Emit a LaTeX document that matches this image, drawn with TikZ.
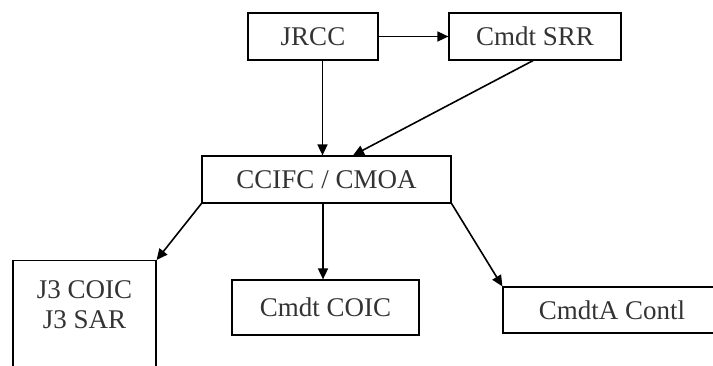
\documentclass[tikz,border=0pt]{standalone}
\usepackage{fontspec}
\setmainfont{Liberation Serif}
\usepackage{tikz}
\usetikzlibrary{arrows.meta}

\begin{document}
\begin{tikzpicture}[x=1pt,y=1pt,
    box/.style={draw,line width=1.2pt,inner sep=0pt,
      font=\fontsize{27}{30}\selectfont,text=black!80},
    >={Triangle[length=11pt,width=10pt]}]
      \useasboundingbox (0,0) rectangle (713,365);
      \node [box,minimum width=130,minimum height=47] (1) at (313,328.5) {JRCC};
      \node [box,minimum width=172,minimum height=47] (2) at (535,328.5) {Cmdt SRR};
      \node [box,minimum width=249,minimum height=47] (3) at (326.5,185.5) {CCIFC / CMOA};
      \node [box,minimum width=143,minimum height=130,anchor=north,align=center,
        text depth=50pt,inner ysep=20pt] (4) at (84.5,105) {J3 COIC\\J3 SAR};
      \node [box,minimum width=187,minimum height=55] (5) at (325.5,57.5) {Cmdt COIC};
      \node [box,minimum width=218,minimum height=46] (6) at (612,55) {CmdtA Contl};

      \draw[->,line width=1.6pt] (1) -- (2);
      \draw[->,line width=1.6pt] ([xshift=9.5pt]1.south) -- ([xshift=-4pt]3.north);
      \draw[->,line width=1.6pt] ([xshift=-2pt]2.south) -- ([xshift=26.5pt]3.north);
      \draw[->,line width=1.6pt] (3.south west) -- (4.north east);
      \draw[->,line width=1.6pt] ([xshift=-3.5pt]3.south) -- ([xshift=-2.5pt]5.north);
      \draw[->,line width=1.6pt] (3.south east) -- (6.north west);
    \end{tikzpicture}
\end{document}
